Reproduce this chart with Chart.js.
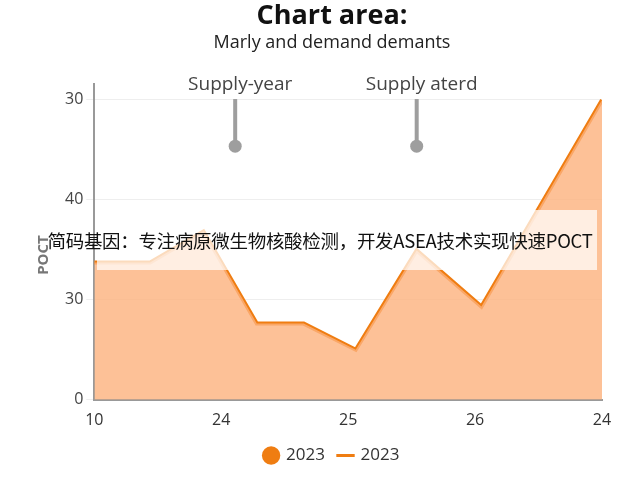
<!DOCTYPE html>
<html><head><meta charset="utf-8">
<script src="https://cdn.jsdelivr.net/npm/chart.js@4/dist/chart.umd.min.js"></script>
<style>body{margin:0;background:#fff}#w{position:relative;width:640px;height:480px}
#band{position:absolute;left:0;top:210px;width:640px;height:60px;display:flex;align-items:center;justify-content:center;font-family:"Noto Sans CJK SC";font-size:18.5px;color:#111;white-space:nowrap;letter-spacing:-0.3px}
#bandbg{position:absolute;left:97px;top:210px;width:500px;height:60px;background:rgba(255,255,255,0.72)}</style>
</head><body><div id="w"><canvas id="c" width="640" height="480"></canvas><div id="bandbg"></div><div id="band">简码基因：专注病原微生物核酸检测，开发ASEA技术实现快速POCT</div></div>
<script>
const xLabels=["10","24","25","26","24"];
const yLabels=["0","30","40","30"];
const xs=[0,0.44,0.86,1.28,1.65,2.06,2.54,3.05,4];
const ys=[1.37,1.37,1.68,0.76,0.76,0.50,1.49,0.93,2.99];
const annText=["Supply-year","Supply aterd"];
const annX=[1.11,2.54];
const pts=xs.map((x,i)=>({x,y:ys[i]}));
const ann={id:'ann',afterDatasetsDraw(ch){const c=ch.ctx,sx=ch.scales.x,sy=ch.scales.y;c.save();
annX.forEach((v,i)=>{const px=sx.getPixelForValue(v);c.strokeStyle='#9e9e9e';c.fillStyle='#9e9e9e';c.lineWidth=4;c.beginPath();c.moveTo(px,sy.getPixelForValue(3));c.lineTo(px,sy.getPixelForValue(2.55));c.stroke();c.beginPath();c.arc(px,sy.getPixelForValue(2.53),6.5,0,7);c.fill();
c.fillStyle='#444';c.font='19px "Open Sans"';c.textAlign='center';c.fillText(annText[i],px+5,85);});
c.fillStyle='#777';c.font='bold 15px "Open Sans"';c.translate(44,255);c.rotate(-Math.PI/2);c.textAlign='center';c.fillText('POCT',0,0);c.restore();}};
new Chart(document.getElementById('c'),{type:'line',data:{datasets:[
{label:'2023',data:pts,fill:'origin',backgroundColor:'rgba(253,178,125,0.8)',borderWidth:0,pointRadius:0,pointStyle:'circle'},
{label:'2023',data:pts,fill:false,borderColor:'#ef7d12',borderWidth:4,pointRadius:0,pointStyle:'line'}]},
options:{responsive:false,animation:false,layout:{padding:{left:62,right:38,top:0,bottom:6}},
plugins:{title:{display:true,text:'Chart area:',font:{size:27,weight:'bold',family:'Open Sans'},color:'#111',padding:{top:0,bottom:0}},
subtitle:{display:true,text:'Marly and demand demants',font:{size:18,family:'Open Sans'},color:'#222',padding:{bottom:30}},
legend:{position:'bottom',labels:{usePointStyle:true,boxWidth:13,boxHeight:13,font:{size:17,family:'Open Sans'},color:'#333',padding:14,
generateLabels:()=>[{text:'2023',fillStyle:'#ef7d12',strokeStyle:'#ef7d12',pointStyle:'circle',lineWidth:0,datasetIndex:0,fontColor:'#333'},{text:'2023',fillStyle:'#ef7d12',strokeStyle:'#ef7d12',pointStyle:'line',lineWidth:3,datasetIndex:1,fontColor:'#333'}]}},tooltip:{enabled:false}},
scales:{x:{type:'linear',min:0,max:4,offset:false,grid:{display:false,drawTicks:true},border:{color:'#999',width:2},ticks:{stepSize:1,font:{size:16,family:'Open Sans'},color:'#333',callback:v=>xLabels[v]}},
y:{min:0,max:3.15,afterBuildTicks:a=>{a.ticks=[0,1,2,3].map(v=>({value:v}))},grid:{color:'#eee'},border:{color:'#999',width:2},ticks:{font:{size:16,family:'Open Sans'},color:'#444',callback:v=>yLabels[v]}}}},
plugins:[ann]});
</script></body></html>
